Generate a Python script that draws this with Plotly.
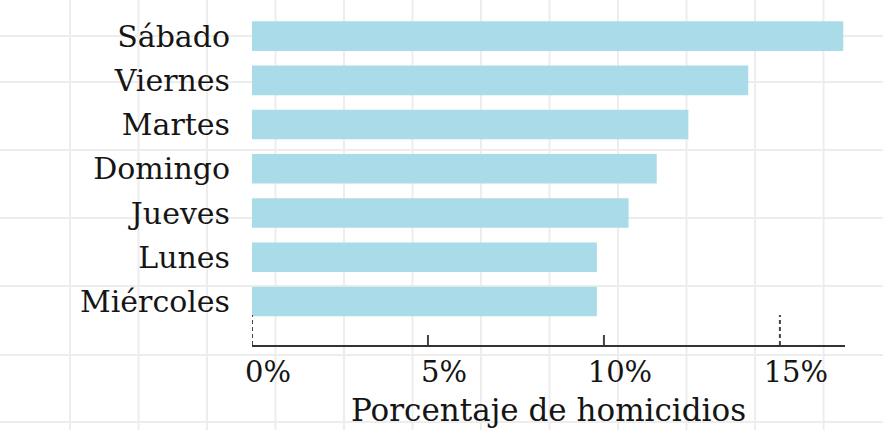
import plotly.graph_objects as go

days = ["Sábado", "Viernes", "Martes", "Domingo", "Jueves", "Lunes", "Miércoles"]
pct = [16.8, 14.1, 12.4, 11.5, 10.7, 9.8, 9.8]
tick_vals = [0, 5, 10, 15]
tick_text = ["0%", "5%", "10%", "15%"]
dashed_ticks = [0, 15]
x_title = "Porcentaje de homicidios"

W, H = 883, 430
L, R, T, B = 252, 38, 14, 85
pw, ph = W - L - R, H - T - B

BAR = "#a9dbe9"
INK = "#151515"
FONT = "DejaVu Serif"
GRID = "#ededed"

fig = go.Figure(go.Bar(
    x=pct, y=days, orientation="h",
    marker=dict(color=BAR, line=dict(width=0)),
    hoverinfo="skip",
))

shapes = []
# background graph-paper grid (pixel positions -> paper coords)
grid_x_px = [70, 138.5, 207, 275.5, 344, 412.5, 481, 549.5, 618, 686.5, 755, 823.5]
grid_y_px = [36, 82, 150, 218, 286, 355, 422]
for px in grid_x_px:
    xp = (px - L) / pw
    shapes.append(dict(type="line", xref="paper", yref="paper", x0=xp, x1=xp,
                       y0=-B / ph, y1=(ph + T) / ph,
                       line=dict(color=GRID, width=2), layer="below"))
for py in grid_y_px:
    yp = (T + ph - py) / ph
    shapes.append(dict(type="line", xref="paper", yref="paper", x0=-L / pw, x1=(W - L) / pw,
                       y0=yp, y1=yp, line=dict(color=GRID, width=2), layer="below"))

# tick marks drawn from tick values
for v in tick_vals:
    if v in dashed_ticks:
        shapes.append(dict(type="line", xref="x", yref="paper", x0=v, x1=v,
                           y0=0, y1=30 / ph, line=dict(color="#444", width=2, dash="4px,3px")))
    else:
        shapes.append(dict(type="line", xref="x", yref="paper", x0=v, x1=v,
                           y0=0, y1=10 / ph, line=dict(color="#444", width=2)))

fig.update_layout(
    width=W, height=H,
    margin=dict(l=L, r=R, t=T, b=B),
    paper_bgcolor="white",
    plot_bgcolor="rgba(0,0,0,0)",
    bargap=0.33,
    showlegend=False,
    shapes=shapes,
    font=dict(family=FONT, color=INK, size=30),
    annotations=[dict(text=x_title, xref="paper", yref="paper", x=0.5, y=0,
                      xanchor="center", yanchor="top", yshift=-45, showarrow=False,
                      font=dict(family=FONT, size=31, color=INK))],
)
fig.update_xaxes(
    range=[0, 16.85],
    tickvals=tick_vals, ticktext=tick_text,
    ticks="", showgrid=False, zeroline=False,
    showline=True, linecolor="#333", linewidth=2,
    tickfont=dict(family=FONT, size=29, color=INK),
    ticklabelshift=16,
)
fig.update_yaxes(
    categoryorder="array", categoryarray=days[::-1],
    range=[-0.985, 6.5],
    ticks="", showgrid=False, zeroline=False, showline=False,
    tickfont=dict(family=FONT, size=30, color=INK),
    ticklabelstandoff=21,
)

fig.write_html("out.html")
